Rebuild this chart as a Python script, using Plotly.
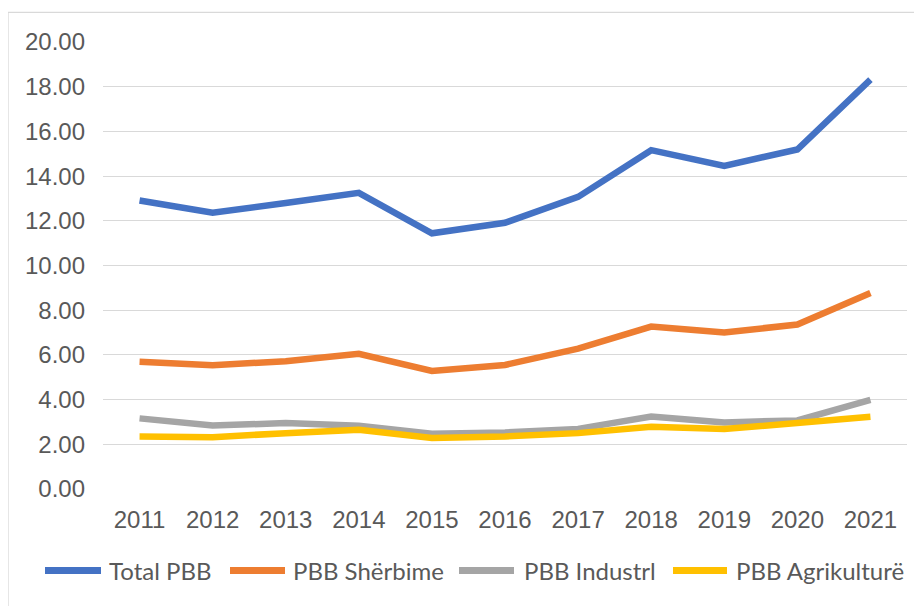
import plotly.graph_objects as go

years = ["2011", "2012", "2013", "2014", "2015", "2016", "2017", "2018", "2019", "2020", "2021"]
total_pbb = [12.91, 12.36, 12.80, 13.25, 11.44, 11.91, 13.07, 15.16, 14.46, 15.19, 18.32]
pbb_sherbime = [5.69, 5.54, 5.72, 6.05, 5.28, 5.55, 6.28, 7.27, 7.00, 7.36, 8.77]
pbb_industri = [3.16, 2.84, 2.95, 2.83, 2.47, 2.53, 2.69, 3.24, 2.98, 3.07, 3.99]
pbb_agrikulture = [2.35, 2.32, 2.50, 2.65, 2.28, 2.35, 2.50, 2.78, 2.68, 2.95, 3.23]

series = [
    ("Total PBB", total_pbb, "#4472C4"),
    ("PBB Shërbime", pbb_sherbime, "#ED7D31"),
    ("PBB Industrl", pbb_industri, "#A5A5A5"),
    ("PBB Agrikulturë", pbb_agrikulture, "#FFC000"),
]
y_ticks = [0, 2, 4, 6, 8, 10, 12, 14, 16, 18, 20]

# legend layout (window pixels): line start, line end, text start
legend_pos = [(43, 103, 107), (228, 287, 291), (457, 516, 522), (671, 729, 734)]

PLOT_L, PLOT_W = 103, 804
PLOT_B, PLOT_H = 489.3, 447.6


def px_x(px):
    return (px - PLOT_L) / PLOT_W


def px_y(py):
    return (PLOT_B - py) / PLOT_H


fig = go.Figure()
for name, vals, color in series:
    fig.add_trace(go.Scatter(x=years, y=vals, name=name, mode="lines",
                             line=dict(color=color, width=6.5)))

shapes = [
    dict(type="line", xref="paper", yref="paper", x0=px_x(8), x1=1.2, y0=px_y(12), y1=px_y(12),
         line=dict(color="#D9D9D9", width=1.3)),
    dict(type="line", xref="paper", yref="paper", x0=px_x(8), x1=px_x(8), y0=px_y(12), y1=-0.5,
         line=dict(color="#D9D9D9", width=1.3)),
]
annotations = []
leg_y = px_y(571)
for (name, vals, color), (x0, x1, xt) in zip(series, legend_pos):
    shapes.append(dict(type="line", xref="paper", yref="paper", x0=px_x(x0 + 2), x1=px_x(x1 - 2),
                       y0=leg_y, y1=leg_y, line=dict(color=color, width=7)))
    annotations.append(dict(text=name, xref="paper", yref="paper", x=px_x(xt), y=leg_y,
                            xanchor="left", yanchor="middle", showarrow=False,
                            font=dict(family="Lato, Open Sans, sans-serif", size=24, color="#595959")))

fig.update_layout(
    width=914, height=598,
    margin=dict(l=95, r=15, t=34, b=117, autoexpand=False),
    paper_bgcolor="white", plot_bgcolor="white",
    showlegend=False,
    xaxis=dict(type="category", range=[-0.5, 10.5], showgrid=False, showline=False, zeroline=False,
               ticks="", automargin=False,
               tickfont=dict(family="Liberation Sans, Arial, sans-serif", size=24, color="#595959"),
               ticklabelstandoff=14),
    yaxis=dict(range=[0, 20], tickvals=y_ticks, tickformat=".2f", showgrid=True, automargin=False,
               gridcolor="#D9D9D9", gridwidth=1.3, zeroline=False, showline=False, ticks="",
               tickfont=dict(family="Liberation Sans, Arial, sans-serif", size=24, color="#595959"),
               ticklabelstandoff=17),
    shapes=shapes,
    annotations=annotations,
)

fig.write_html("out.html")
